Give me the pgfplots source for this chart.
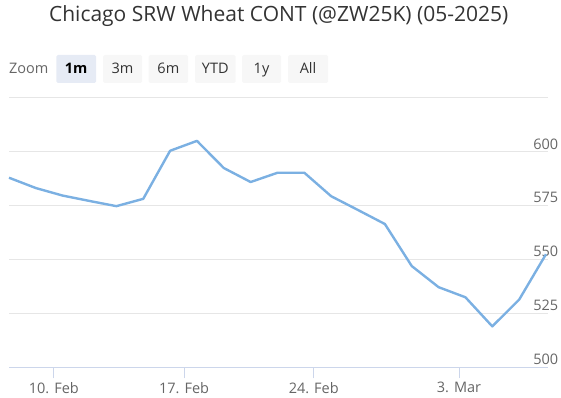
\documentclass[border=0pt]{standalone}
\usepackage{pgfplots}
\pgfplotsset{compat=1.18}
\usepackage{fontspec}
\setmainfont{Open Sans}
\definecolor{hcline}{HTML}{7BB0E2}
\definecolor{hcgrid}{HTML}{E6E6E6}
\definecolor{hcaxis}{HTML}{CCD6EB}
\definecolor{hctitle}{HTML}{333333}
\definecolor{hclabel}{HTML}{666666}
\definecolor{btnsel}{HTML}{E6EBF5}
\definecolor{btn}{HTML}{F7F7F7}
\begin{document}
\begin{tikzpicture}
\path[use as bounding box] (0pt,0pt) rectangle (561pt,-398pt);
\node[font=\fontsize{21}{21}\selectfont, text=hctitle, anchor=base] at (278.7pt,-22pt) {Chicago SRW Wheat CONT (@ZW25K) (05-2025)};
\node[font=\fontsize{14.5}{14.5}\selectfont, text=hclabel, anchor=base west, inner sep=0pt] at (9pt,-74pt) {Zoom};
\fill[btnsel, rounded corners=1.5pt] (56.3pt,-55pt) rectangle (96pt,-83pt);
\node[font=\fontsize{14.5}{14.5}\selectfont\bfseries, text=black, anchor=base, inner sep=0pt] at (76.2pt,-74pt) {1m};
\foreach \a/\b/\t in {103/142/3m, 148.7/188/6m, 195/235.5/YTD, 242/281/1y, 288/328/All}{
  \fill[btn, rounded corners=1.5pt] (\a pt,-55pt) rectangle (\b pt,-83pt);
  \node[font=\fontsize{14.5}{14.5}\selectfont, text=hctitle, anchor=base, inner sep=0pt] at ({(\a+\b)/2*1pt},-74pt) {\t};
}
\begin{axis}[
  at={(9pt,-367.3pt)}, anchor=south west,
  scale only axis, width=539.4pt, height=269.3pt,
  xmin=0, xmax=20.09, ymin=500, ymax=625,
  axis x line*=bottom, axis y line*=right,
  x axis line style={draw=hcaxis, line width=1pt, -},
  y axis line style={draw=none},
  ytick={500,525,550,575,600,625},
  yticklabels={500,525,550,575,600,},
  ymajorgrids, grid style={hcgrid, line width=1pt},
  ytick style={draw=none},
  yticklabel style={anchor=south east, inner sep=0pt, xshift=-1pt, yshift=2.5pt, text=hclabel, font=\fontsize{14.5}{14.5}\selectfont},
  xtick={1.67,6.52,11.35,16.76},
  xticklabels={10. Feb,17. Feb,24. Feb,3. Mar},
  tick align=outside, major tick length=11pt,
  xtick style={draw=hcaxis, line width=1pt},
  xticklabel style={text=hclabel, font=\fontsize{14.5}{14.5}\selectfont, anchor=center, yshift=-9.5pt},
  /pgf/number format/assume math mode=true,
  clip=false,
]
\addplot[hcline, line width=2.4pt, line join=round] table {
x y
0 588.0
1 583.2
2 579.7
3 577.2
4 574.8
5 578.2
6 600.5
7 605.1
8 592.5
9 586.0
10 590.3
11 590.3
12 579.4
13 573.0
14 566.5
15 547.0
16 537.2
17 532.5
18 519.0
19 531.4
20 552.5
};
\end{axis}
\end{tikzpicture}
\end{document}
